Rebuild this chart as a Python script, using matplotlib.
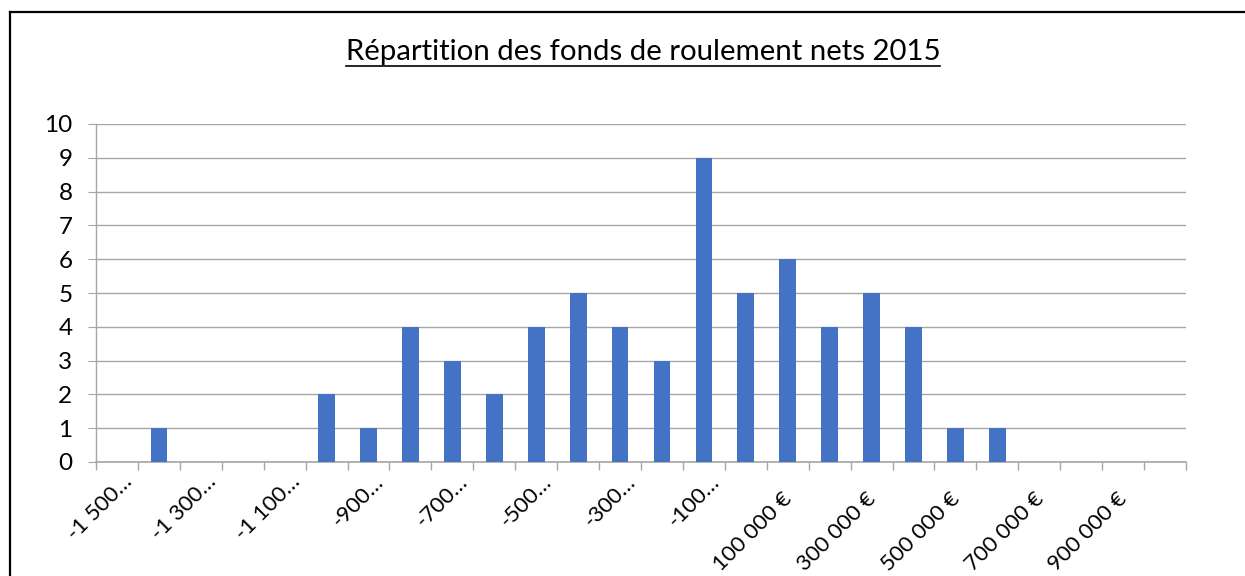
import matplotlib
matplotlib.use('agg')
import matplotlib.pyplot as plt
import matplotlib.transforms as mtransforms
from matplotlib.lines import Line2D
import numpy as np

plt.rcParams['font.family'] = ['Lato', 'DejaVu Sans']

# categories: -1 500 000 to 1 000 000 by 100 000
categories = list(range(-1500000, 1000001, 100000))
counts = [0, 1, 0, 0, 0, 2, 1, 4, 3, 2, 4, 5, 4, 3, 9, 5, 6, 4, 5, 4, 1, 1, 0, 0, 0, 0]
shown_labels = ["-1 500…", "-1 300…", "-1 100…", "-900…", "-700…", "-500…", "-300…", "-100…",
                "100 000 €", "300 000 €", "500 000 €", "700 000 €", "900 000 €"]
title = "Répartition des fonds de roulement nets 2015"

fig = plt.figure(figsize=(12.45, 5.76), dpi=100)
ax = fig.add_axes([96 / 1245, 1 - 462 / 576, (1186 - 96) / 1245, (462 - 124) / 576])

x = np.arange(len(categories))
ax.bar(x, counts, width=0.4, color='#4472C4', zorder=3)

ax.set_xlim(-0.5, len(categories) - 0.5)
ax.set_ylim(0, 10)
ax.set_yticks(range(0, 11))
ax.tick_params(axis='y', length=6, color='#a6a6a6', labelsize=17.5, pad=11)
ax.yaxis.grid(True, color='#a6a6a6', linewidth=1.0, zorder=0)

# ticks at category boundaries, labels every other category
ax.set_xticks(np.arange(-0.5, len(categories), 1.0))
ax.set_xticklabels([])
ax.tick_params(axis='x', which='major', length=6, color='#a6a6a6', width=1.0)
ax.set_xticks(x[::2], minor=True)
ax.set_xticklabels(shown_labels, minor=True, rotation=45, ha='right', va='center',
                   rotation_mode='anchor', fontsize=16)
ax.tick_params(axis='x', which='minor', length=0, pad=14)
for lbl in ax.get_xticklabels(minor=True):
    if lbl.get_text().endswith('…'):
        off = mtransforms.ScaledTranslation(12 / 100, 3 / 100, fig.dpi_scale_trans)
    else:
        off = mtransforms.ScaledTranslation(1 / 100, -14 / 100, fig.dpi_scale_trans)
    lbl.set_transform(lbl.get_transform() + off)

for s in ['top', 'right']:
    ax.spines[s].set_visible(False)
ax.spines['left'].set_color('#a6a6a6')
ax.spines['bottom'].set_color('#a6a6a6')
ax.spines['left'].set_linewidth(1.0)
ax.spines['bottom'].set_linewidth(1.2)

t = fig.text(643 / 1245, 1 - 52 / 576, title, ha='center', va='center', fontsize=21.2)
fig.canvas.draw()
bb = t.get_window_extent()
uy = (bb.y0 - 1) / fig.bbox.height
fig.add_artist(Line2D([bb.x0 / fig.bbox.width, bb.x1 / fig.bbox.width], [uy, uy],
                      transform=fig.transFigure, color='black', linewidth=1.2))

# chart border (left and top visible)
fig.add_artist(Line2D([10 / 1245, 10 / 1245], [0, 1 - 12 / 576], transform=fig.transFigure, color='black', linewidth=1.6))
fig.add_artist(Line2D([10 / 1245, 1], [1 - 12 / 576, 1 - 12 / 576], transform=fig.transFigure, color='black', linewidth=1.6))

plt.savefig('out.png', dpi=100)
